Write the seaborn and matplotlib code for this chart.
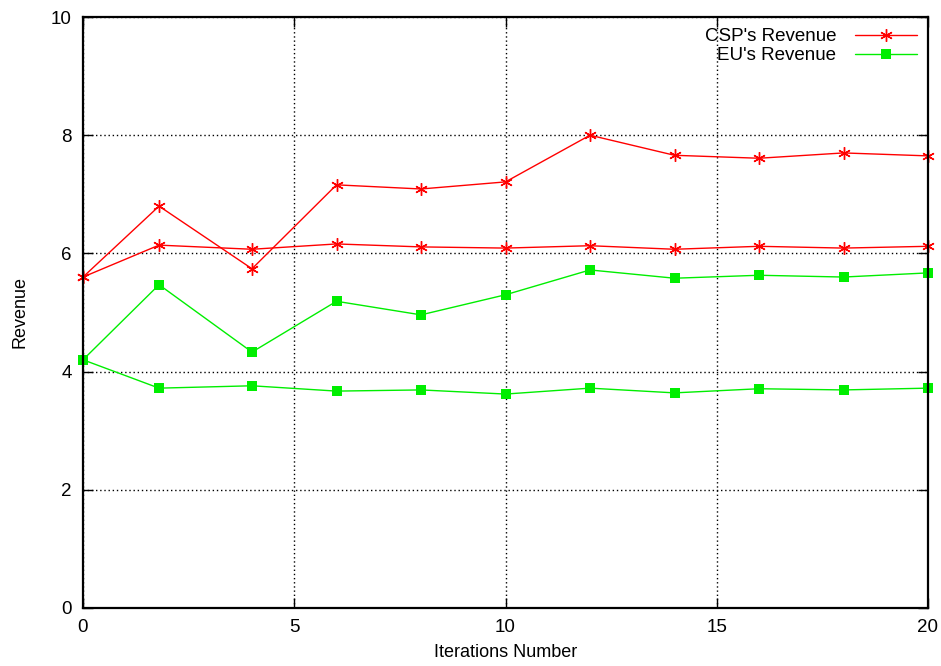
import numpy as np
import pandas as pd
import matplotlib
matplotlib.use('Agg')
import matplotlib.pyplot as plt
import seaborn as sns

iterations = [0, 1.8, 4, 6, 8, 10, 12, 14, 16, 18, 20]
csp_high = [5.60, 6.80, 5.74, 7.16, 7.09, 7.21, 8.00, 7.66, 7.61, 7.70, 7.65]
csp_low = [5.60, 6.14, 6.07, 6.16, 6.11, 6.09, 6.13, 6.07, 6.12, 6.09, 6.12]
eu_high = [4.20, 5.47, 4.33, 5.19, 4.96, 5.30, 5.72, 5.58, 5.63, 5.60, 5.67]
eu_low = [4.20, 3.72, 3.76, 3.67, 3.69, 3.62, 3.72, 3.64, 3.71, 3.69, 3.72]

sns.set_style('ticks')
plt.rcParams['font.family'] = ['Liberation Sans', 'DejaVu Sans']
plt.rcParams['text.color'] = 'black'
plt.rcParams['axes.labelcolor'] = 'black'

fig = plt.figure(figsize=(9.41, 6.66), dpi=100)
ax = fig.add_axes([83 / 941, 1 - 608 / 666, (928 - 83) / 941, (608 - 17) / 666])

red = '#ff0000'
green = '#00ee00'
for ys, lab in [(csp_high, "CSP's Revenue"), (csp_low, None)]:
    sns.lineplot(x=iterations, y=ys, ax=ax, color=red, lw=1, marker=(6, 2, 0),
                 markersize=9, markeredgewidth=1, markeredgecolor=red,
                 label=lab, legend=False, clip_on=False)
for ys, lab in [(eu_high, "EU's Revenue"), (eu_low, None)]:
    sns.lineplot(x=iterations, y=ys, ax=ax, color=green, lw=1, marker='s',
                 markersize=7, markeredgewidth=0, label=lab, legend=False,
                 clip_on=False)

ax.set_xlim(0, 20)
ax.set_ylim(0, 10)
ax.set_xticks([0, 5, 10, 15, 20])
ax.set_yticks([0, 2, 4, 6, 8, 10])
ax.grid(True, color='black', linestyle=(0, (1, 2)), linewidth=1)
ax.tick_params(direction='in', top=True, right=True, length=7, width=1,
               labelsize=13.5, colors='black', pad=8)
for s in ax.spines.values():
    s.set_linewidth(1.6)
    s.set_color('black')
ax.set_xlabel('Iterations Number', fontsize=13, labelpad=6)
ax.set_ylabel('Revenue', fontsize=13, labelpad=16)

leg = ax.legend(loc='upper right', frameon=False, fontsize=13.5, markerfirst=False,
                handlelength=3.3, borderaxespad=0.2, labelspacing=0.1,
                handletextpad=1.0)

fig.savefig('out.png', dpi=100)
